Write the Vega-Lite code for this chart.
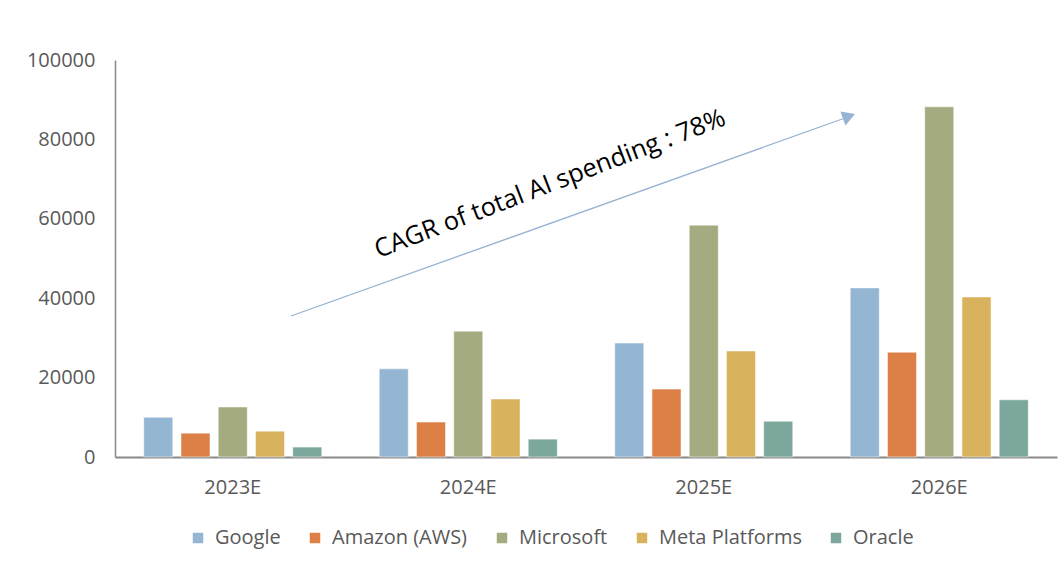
{
  "$schema": "https://vega.github.io/schema/vega-lite/v6.json",
  "autosize": {"type": "none"},
  "padding": {"left": 115, "top": 60, "right": 3, "bottom": 119},
  "width": 942,
  "height": 397,
  "background": "white",
  "config": {
    "view": {"stroke": null},
    "font": "Open Sans",
    "axis": {"grid": false, "ticks": false, "domainColor": "#898989", "labelColor": "#595959", "labelFontSize": 20, "labelFont": "Open Sans", "title": null}
  },
  "datasets": {
    "spend": [
      {"year": "2023E", "company": "Google", "value": 10000},
      {"year": "2023E", "company": "Amazon (AWS)", "value": 6000},
      {"year": "2023E", "company": "Microsoft", "value": 12600},
      {"year": "2023E", "company": "Meta Platforms", "value": 6500},
      {"year": "2023E", "company": "Oracle", "value": 2500},
      {"year": "2024E", "company": "Google", "value": 22200},
      {"year": "2024E", "company": "Amazon (AWS)", "value": 8800},
      {"year": "2024E", "company": "Microsoft", "value": 31700},
      {"year": "2024E", "company": "Meta Platforms", "value": 14600},
      {"year": "2024E", "company": "Oracle", "value": 4500},
      {"year": "2025E", "company": "Google", "value": 28700},
      {"year": "2025E", "company": "Amazon (AWS)", "value": 17100},
      {"year": "2025E", "company": "Microsoft", "value": 58400},
      {"year": "2025E", "company": "Meta Platforms", "value": 26700},
      {"year": "2025E", "company": "Oracle", "value": 9000},
      {"year": "2026E", "company": "Google", "value": 42600},
      {"year": "2026E", "company": "Amazon (AWS)", "value": 26400},
      {"year": "2026E", "company": "Microsoft", "value": 88200},
      {"year": "2026E", "company": "Meta Platforms", "value": 40300},
      {"year": "2026E", "company": "Oracle", "value": 14400}
    ],
    "arrow": [{"x": 0.1868, "y": 35516, "x2": 0.775, "y2": 85390}],
    "head": [{"x": 0.777, "y": 85642}],
    "note": [{"x": 0.4618, "y": 68800, "label": "CAGR of total AI spending : 78%"}]
  },
  "layer": [
    {
      "data": {"name": "spend"},
      "mark": {"type": "bar", "stroke": "white", "strokeWidth": 1, "strokeOpacity": 0.5},
      "encoding": {
        "x": {"field": "year", "type": "nominal", "scale": {"paddingInner": 0.244, "paddingOuter": 0.122}, "axis": {"labelAngle": 0, "labelPadding": 20, "domainWidth": 2}},
        "xOffset": {"field": "company", "type": "nominal", "sort": ["Google", "Amazon (AWS)", "Microsoft", "Meta Platforms", "Oracle"], "scale": {"paddingInner": 0.22}},
        "y": {"field": "value", "type": "quantitative", "scale": {"domain": [0, 100000]}, "axis": {"values": [0, 20000, 40000, 60000, 80000, 100000], "labelPadding": 20, "domainWidth": 1.5, "format": "d"}},
        "color": {
          "field": "company", "type": "nominal",
          "sort": ["Google", "Amazon (AWS)", "Microsoft", "Meta Platforms", "Oracle"],
          "scale": {"domain": ["Google", "Amazon (AWS)", "Microsoft", "Meta Platforms", "Oracle"], "range": ["#94B6D2", "#DD8047", "#A5AB81", "#D8B25C", "#7BA79D"]},
          "legend": {"orient": "none", "direction": "horizontal", "legendX": 73, "legendY": 468, "title": null, "symbolType": "square", "symbolSize": 110, "symbolStrokeWidth": 0, "labelFontSize": 20, "labelColor": "#595959", "labelFont": "Open Sans", "columnPadding": 24, "labelOffset": 7}
        }
      }
    },
    {
      "data": {"name": "arrow"},
      "mark": {"type": "rule", "color": "#95B3D2", "strokeWidth": 1.3},
      "encoding": {
        "x": {"field": "x", "type": "quantitative", "scale": {"domain": [0, 1]}, "axis": null},
        "x2": {"field": "x2"},
        "y": {"field": "y", "type": "quantitative"},
        "y2": {"field": "y2"}
      }
    },
    {
      "data": {"name": "head"},
      "mark": {"type": "point", "shape": "triangle", "filled": true, "color": "#95B3D2", "opacity": 1, "size": 220, "angle": 70},
      "encoding": {
        "x": {"field": "x", "type": "quantitative", "scale": {"domain": [0, 1]}, "axis": null},
        "y": {"field": "y", "type": "quantitative"}
      }
    },
    {
      "data": {"name": "note"},
      "mark": {"type": "text", "fontSize": 25.5, "font": "Open Sans", "color": "#000000", "angle": 339, "align": "center", "baseline": "middle"},
      "encoding": {
        "x": {"field": "x", "type": "quantitative", "scale": {"domain": [0, 1]}, "axis": null},
        "y": {"field": "y", "type": "quantitative"},
        "text": {"field": "label"}
      }
    }
  ],
  "resolve": {"scale": {"x": "independent"}}
}
